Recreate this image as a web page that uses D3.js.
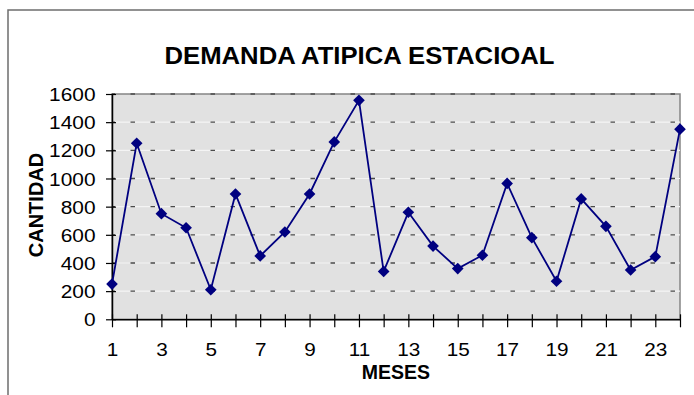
<!DOCTYPE html>
<html>
<head>
<meta charset="utf-8">
<script src="https://cdn.jsdelivr.net/npm/d3@7"></script>
<style>
  html, body { margin: 0; padding: 0; background: #ffffff; }
  svg { display: block; }
  text { font-family: "Liberation Sans", Arial, sans-serif; fill: #000; }
</style>
</head>
<body>
<svg id="chart" width="694" height="395"></svg>
<script>
const title = "DEMANDA ATIPICA ESTACIOAL";
const xTitle = "MESES";
const yTitle = "CANTIDAD";
const meses = [1,2,3,4,5,6,7,8,9,10,11,12,13,14,15,16,17,18,19,20,21,22,23,24];
const demanda = [250,1250,750,650,210,890,450,620,890,1260,1555,340,760,520,360,455,965,580,270,855,660,350,445,1350];
const yTicks = [0,200,400,600,800,1000,1200,1400,1600];
const xTickLabels = [1,3,5,7,9,11,13,15,17,19,21,23];

const svg = d3.select("#chart");
const L = 112, R = 680, T = 94, B = 319.3;

const x = d3.scaleLinear().domain([1, 24]).range([L, R]);
const y = d3.scaleLinear().domain([0, 1600]).range([B, T]);

// outer frame
svg.append("rect")
  .attr("x", 8).attr("y", 10).attr("width", 900).attr("height", 600)
  .attr("fill", "#ffffff").attr("stroke", "#6e6e6e").attr("stroke-width", 1.5);

// plot area
svg.append("rect")
  .attr("x", L).attr("y", T).attr("width", R - L).attr("height", B - T)
  .attr("fill", "#e1e1e1").attr("stroke", "#858585").attr("stroke-width", 1.5);

// gridlines
const grid = svg.append("g");
yTicks.filter(v => v > 0).forEach(v => {
  if (v < 1600) {
    grid.append("line")
      .attr("x1", L).attr("x2", R).attr("y1", y(v)).attr("y2", y(v))
      .attr("stroke", "#f4f4f4").attr("stroke-width", 1.2);
  }
  grid.append("line")
    .attr("x1", L).attr("x2", R).attr("y1", y(v)).attr("y2", y(v))
    .attr("stroke", "#4a4a4a").attr("stroke-width", 1.3)
    .attr("stroke-dasharray", "4.5,15.5").attr("stroke-dashoffset", 1.5);
});

// Y axis
const yAxis = d3.axisLeft(y).tickValues(yTicks).tickSizeInner(0).tickSizeOuter(0).tickFormat(d3.format("d"));
const gy = svg.append("g").attr("transform", `translate(${L},0)`).call(yAxis);
gy.select(".domain").attr("stroke", "#000").attr("stroke-width", 1.5);
gy.selectAll(".tick line").remove();
gy.selectAll(".tick").append("line")
  .attr("x1", -6).attr("x2", 4).attr("y1", 0).attr("y2", 0)
  .attr("stroke", "#000").attr("stroke-width", 1.2);
gy.selectAll(".tick text")
  .attr("x", 0).attr("dy", "0.36em")
  .attr("transform", "translate(-16.5,0) scale(1.13,1)")
  .style("font-size", "18.5px").attr("text-anchor", "end");

// X axis
const xAxis = d3.axisBottom(x).tickValues(meses).tickSizeInner(0).tickSizeOuter(0)
  .tickFormat(d => xTickLabels.includes(d) ? String(d) : "");
const gx = svg.append("g").attr("transform", `translate(0,${B})`).call(xAxis);
gx.select(".domain").attr("stroke", "#000").attr("stroke-width", 1.5);
gx.selectAll(".tick line").remove();
gx.selectAll(".tick").append("line")
  .attr("x1", 0).attr("x2", 0).attr("y1", -5).attr("y2", 8)
  .attr("stroke", "#000").attr("stroke-width", 1.2);
gx.selectAll(".tick text")
  .attr("y", 0).attr("dy", null)
  .attr("transform", "translate(0,36.8) scale(1.12,1)")
  .style("font-size", "18.5px");

// line
const line = d3.line().x((d, i) => x(meses[i])).y(d => y(d));
svg.append("path")
  .datum(demanda)
  .attr("d", line)
  .attr("fill", "none").attr("stroke", "#000080").attr("stroke-width", 1.8);

// markers
const diamond = d3.symbol().type(d3.symbolSquare).size(68);
svg.append("g").selectAll("path")
  .data(demanda)
  .join("path")
  .attr("d", diamond)
  .attr("transform", (d, i) => `translate(${x(meses[i])},${y(d)}) rotate(45)`)
  .attr("fill", "#000080");

// title
svg.append("text")
  .attr("x", 164.5).attr("y", 64)
  .attr("textLength", 390).attr("lengthAdjust", "spacingAndGlyphs")
  .style("font-size", "23px").style("font-weight", "bold")
  .text(title);

// axis titles
svg.append("text")
  .attr("x", 396).attr("y", 378.5).attr("text-anchor", "middle")
  .style("font-size", "19.5px").style("font-weight", "bold")
  .text(xTitle);

svg.append("text")
  .attr("transform", "translate(42.5,205) rotate(-90)")
  .attr("text-anchor", "middle")
  .style("font-size", "20px").style("font-weight", "bold")
  .text(yTitle);
</script>
</body>
</html>
